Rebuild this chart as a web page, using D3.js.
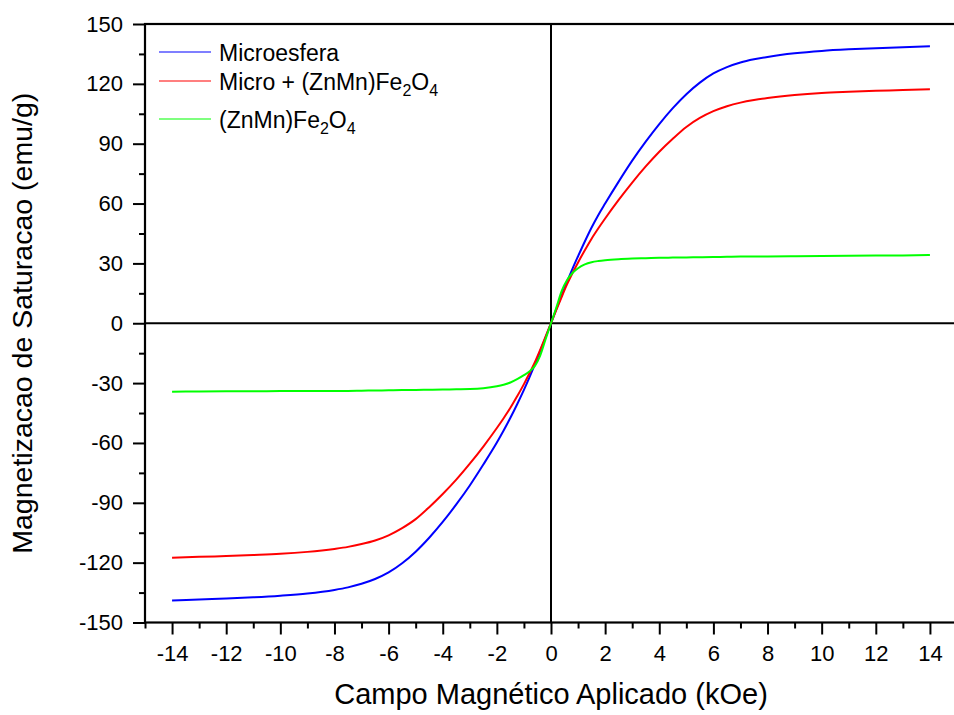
<!DOCTYPE html>
<html>
<head>
<meta charset="utf-8">
<script src="https://cdn.jsdelivr.net/npm/d3@7/dist/d3.min.js"></script>
<style>
  html, body { margin: 0; padding: 0; background: #fff; }
  svg { display: block; font-family: Arial, "Liberation Sans", sans-serif; }
</style>
</head>
<body>
<svg id="chart" width="954" height="715"></svg>
<script>
// Applied field (kOe)
const fieldKOe = [-14,-13,-12,-11,-10,-9,-8,-7.5,-7,-6.5,-6,-5.5,-5,-4.5,-4,-3.5,-3,-2.5,-2,-1.75,-1.5,-1.25,-1,-0.8,-0.6,-0.4,-0.2,
  0,
  0.2,0.4,0.6,0.8,1,1.25,1.5,1.75,2,2.5,3,3.5,4,4.5,5,5.5,6,6.5,7,7.5,8,9,10,11,12,13,14];

// Magnetization (emu/g) for each sample
const microesfera = [-139.0,-138.5,-138.0,-137.4,-136.6,-135.5,-133.7,-132.4,-130.6,-128.2,-124.9,-120.3,-114.5,-107.5,-99.6,-90.8,-81.3,-70.8,-59.8,-53.8,-47.4,-40.6,-33.4,-27.3,-20.8,-14.0,-7.1,
  0,
  7.2,14.2,21.0,27.5,33.6,41.0,48.0,54.3,60.0,71.0,81.5,91.0,99.8,107.8,114.8,120.6,125.2,128.4,130.7,132.3,133.5,135.3,136.5,137.3,137.9,138.4,138.8];

const microZnMn = [-117.6,-117.1,-116.7,-116.2,-115.6,-114.6,-113.1,-112.1,-110.7,-108.9,-106.3,-102.7,-98.2,-92.2,-85.6,-78.4,-70.4,-61.8,-52.5,-47.6,-42.4,-36.6,-30.5,-25.2,-19.6,-13.3,-6.7,
  0,
  6.8,13.4,19.7,25.3,30.5,36.6,42.4,47.6,52.5,61.8,70.5,78.6,86.0,92.5,98.4,102.9,106.3,108.8,110.6,111.9,112.9,114.4,115.4,116.0,116.5,116.9,117.3];

const znMnFerrite = [-34.3,-34.2,-34.1,-34.1,-34.0,-34.0,-33.9,-33.9,-33.8,-33.7,-33.6,-33.5,-33.4,-33.3,-33.2,-33.1,-33.0,-32.6,-31.6,-30.8,-29.7,-28.0,-26.0,-24.2,-21.5,-16.2,-8.0,
  0,
  8.0,16.3,21.8,25.3,27.6,29.5,30.6,31.2,31.6,32.1,32.4,32.6,32.8,32.9,33.0,33.1,33.2,33.3,33.4,33.4,33.5,33.6,33.7,33.8,33.9,34.0,34.2];

const xTicks = [-14,-12,-10,-8,-6,-4,-2,0,2,4,6,8,10,12,14];
const yTicks = [-150,-120,-90,-60,-30,0,30,60,90,120,150];

const svg = d3.select("#chart");
const fontStack = "Arial, 'Liberation Sans', sans-serif";

const x = d3.scaleLinear().domain([-15, 15]).range([145, 957]);
const y = d3.scaleLinear().domain([-150, 150]).range([622.5, 24]);

// Minor ticks sit halfway between labelled ticks
const xMinor = d3.range(-15, 16, 1).filter(v => !xTicks.includes(v));
const yMinor = d3.range(-150, 151, 15).filter(v => !yTicks.includes(v));
const plainNumber = d => String(d); // hyphen-minus, as on the axes

// Bottom axis with major and minor ticks
const gx = svg.append("g").attr("transform", `translate(0,${y(-150)})`);
gx.call(d3.axisBottom(x).tickValues(xMinor).tickSize(6).tickFormat(""))
  .call(g => g.select(".domain").remove());
gx.append("g").call(d3.axisBottom(x).tickValues(xTicks).tickSize(12).tickPadding(11).tickFormat(plainNumber))
  .call(g => g.select(".domain").remove())
  .call(g => g.selectAll("text").attr("font-size", 22).attr("fill", "#000").attr("font-family", fontStack));
gx.selectAll("line").attr("stroke", "#000").attr("stroke-width", 2);

// Left axis with major and minor ticks
const gy = svg.append("g").attr("transform", `translate(${x(-15)},0)`);
gy.call(d3.axisLeft(y).tickValues(yMinor).tickSize(6).tickFormat(""))
  .call(g => g.select(".domain").remove());
gy.append("g").call(d3.axisLeft(y).tickValues(yTicks).tickSize(12).tickPadding(10).tickFormat(plainNumber))
  .call(g => g.select(".domain").remove())
  .call(g => g.selectAll("text").attr("font-size", 22).attr("fill", "#000").attr("font-family", fontStack));
gy.selectAll("line").attr("stroke", "#000").attr("stroke-width", 2);

// Frame
svg.append("rect")
  .attr("x", x(-15)).attr("y", y(150))
  .attr("width", x(15) - x(-15)).attr("height", y(-150) - y(150))
  .attr("fill", "none").attr("stroke", "#000").attr("stroke-width", 2.2);

// Zero lines
svg.append("line").attr("x1", x(0)).attr("x2", x(0)).attr("y1", y(150)).attr("y2", y(-150))
  .attr("stroke", "#000").attr("stroke-width", 2);
svg.append("line").attr("x1", x(-15)).attr("x2", x(15)).attr("y1", y(0)).attr("y2", y(0))
  .attr("stroke", "#000").attr("stroke-width", 2);

// Magnetization curves
const series = [
  { values: microesfera, color: "#0000ff" },
  { values: microZnMn, color: "#ff0000" },
  { values: znMnFerrite, color: "#00ff00" }
];
const line = d3.line()
  .x((d, i) => x(fieldKOe[i]))
  .y(d => y(d))
  .curve(d3.curveMonotoneX);
svg.append("g").selectAll("path").data(series).join("path")
  .attr("d", s => line(s.values))
  .attr("fill", "none")
  .attr("stroke", s => s.color)
  .attr("stroke-width", 2);

// Legend
const legend = svg.append("g").attr("font-size", 23).attr("fill", "#000");
const rows = [
  { color: "#0000ff", y: 52, parts: [["Microesfera", false]] },
  { color: "#ff0000", y: 81, parts: [["Micro + (ZnMn)Fe", false], ["2", true], ["O", false], ["4", true]] },
  { color: "#00ff00", y: 119, parts: [["(ZnMn)Fe", false], ["2", true], ["O", false], ["4", true]] }
];
rows.forEach(r => {
  legend.append("line").attr("x1", 159).attr("x2", 211).attr("y1", r.y).attr("y2", r.y)
    .attr("stroke", r.color).attr("stroke-width", 1.2);
  const t = legend.append("text").attr("x", 219).attr("y", r.y + 9);
  r.parts.forEach(([txt, sub], k) => {
    const ts = t.append("tspan").text(txt);
    if (sub) ts.attr("font-size", 16).attr("dy", 6);
    else if (k > 0) ts.attr("dy", -6);
  });
});

// Axis titles
svg.append("text")
  .attr("x", x(0)).attr("y", 704)
  .attr("text-anchor", "middle").attr("font-size", 29).attr("fill", "#000")
  .text("Campo Magnético Aplicado (kOe)");
svg.append("text")
  .attr("transform", `translate(32,${y(0)}) rotate(-90)`)
  .attr("text-anchor", "middle").attr("font-size", 28.5).attr("fill", "#000")
  .text("Magnetizacao de Saturacao (emu/g)");
</script>
</body>
</html>
